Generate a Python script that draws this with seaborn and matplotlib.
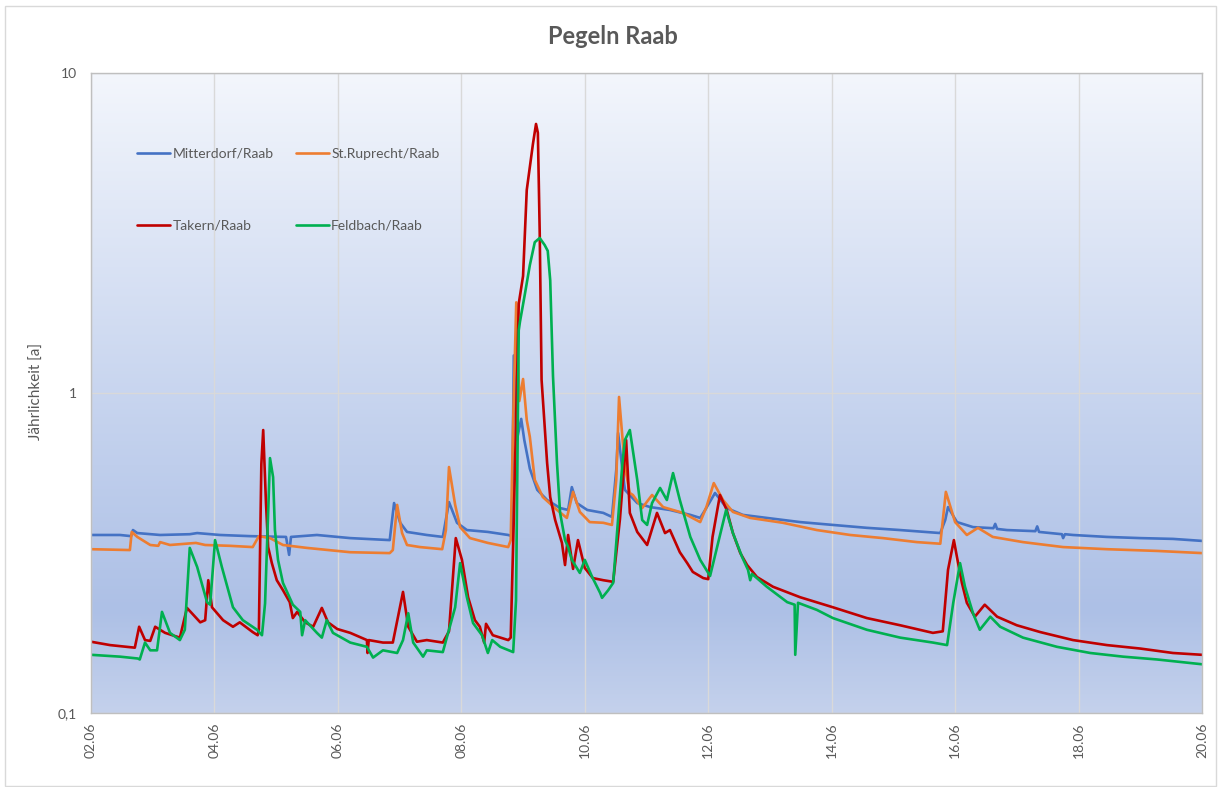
import numpy as np
import pandas as pd
import matplotlib
matplotlib.use("Agg")
import matplotlib.pyplot as plt
import seaborn as sns
from matplotlib.colors import LinearSegmentedColormap
from matplotlib.patches import Rectangle
from matplotlib.ticker import NullLocator

# Gauge readings: (day of June, return period in years)
mitterdorf = [
    (2.00, 0.360), (2.47, 0.360), (2.65, 0.357), (2.68, 0.373), (2.75, 0.365),
    (3.12, 0.360), (3.60, 0.362), (3.72, 0.365), (4.09, 0.360), (4.58, 0.357),
    (5.16, 0.355), (5.21, 0.312), (5.24, 0.355), (5.66, 0.360), (6.20, 0.352),
    (6.84, 0.347), (6.91, 0.453), (7.01, 0.393), (7.12, 0.368), (7.44, 0.360),
    (7.70, 0.355), (7.80, 0.456), (7.93, 0.393), (8.09, 0.373), (8.43, 0.368),
    (8.76, 0.360), (8.82, 0.357), (8.85, 1.31), (8.90, 0.713), (8.97, 0.830),
    (9.02, 0.713), (9.11, 0.580), (9.23, 0.498), (9.39, 0.463), (9.60, 0.437),
    (9.73, 0.431), (9.79, 0.508), (9.87, 0.453), (10.04, 0.431), (10.30, 0.422),
    (10.44, 0.410), (10.51, 0.575), (10.54, 0.750), (10.61, 0.575), (10.65, 0.498),
    (10.85, 0.453), (11.06, 0.440), (11.38, 0.431), (11.71, 0.416), (11.87, 0.407),
    (11.95, 0.431), (12.11, 0.487), (12.30, 0.437), (12.56, 0.416), (12.95, 0.407),
    (13.49, 0.395), (14.02, 0.387), (14.57, 0.379), (15.11, 0.373), (15.76, 0.365),
    (15.84, 0.401), (15.885, 0.440), (16.03, 0.395), (16.29, 0.381), (16.62, 0.378),
    (16.65, 0.390), (16.68, 0.376), (16.84, 0.373), (17.30, 0.370), (17.33, 0.383),
    (17.36, 0.368), (17.73, 0.362), (17.75, 0.352), (17.78, 0.362), (17.91, 0.360),
    (18.46, 0.355), (19.00, 0.352), (19.53, 0.350), (20.00, 0.345),
]

st_ruprecht = [
    (2.00, 0.325), (2.63, 0.323), (2.66, 0.368), (2.75, 0.355), (2.96, 0.335),
    (3.09, 0.333), (3.12, 0.342), (3.28, 0.335), (3.70, 0.340), (3.85, 0.335),
    (4.25, 0.333), (4.62, 0.330), (4.72, 0.357), (4.90, 0.352), (5.11, 0.335),
    (5.50, 0.328), (6.20, 0.318), (6.84, 0.316), (6.89, 0.323), (6.96, 0.447),
    (7.04, 0.365), (7.12, 0.335), (7.33, 0.330), (7.69, 0.325), (7.75, 0.373),
    (7.80, 0.587), (7.90, 0.447), (7.98, 0.381), (8.14, 0.352), (8.43, 0.340),
    (8.76, 0.330), (8.80, 0.347), (8.84, 0.823), (8.89, 1.92), (8.94, 0.944),
    (9.00, 1.106), (9.06, 0.823), (9.11, 0.729), (9.19, 0.535), (9.32, 0.473),
    (9.55, 0.431), (9.71, 0.407), (9.81, 0.491), (9.92, 0.425), (10.08, 0.395),
    (10.30, 0.393), (10.44, 0.387), (10.51, 0.535), (10.555, 0.972), (10.65, 0.587),
    (10.73, 0.487), (10.78, 0.480), (10.93, 0.437), (11.09, 0.480), (11.27, 0.440),
    (11.59, 0.422), (11.87, 0.395), (11.97, 0.440), (12.09, 0.523), (12.24, 0.463),
    (12.40, 0.425), (12.68, 0.407), (13.21, 0.393), (13.76, 0.373), (14.30, 0.360),
    (14.83, 0.352), (15.38, 0.342), (15.76, 0.338), (15.85, 0.491), (16.00, 0.395),
    (16.19, 0.360), (16.37, 0.379), (16.61, 0.355), (17.10, 0.342), (17.75, 0.330),
    (18.46, 0.325), (19.27, 0.321), (20.00, 0.316),
]

takern = [
    (2.00, 0.167), (2.31, 0.163), (2.71, 0.160), (2.78, 0.186), (2.875, 0.169),
    (2.96, 0.168), (3.04, 0.186), (3.20, 0.178), (3.44, 0.172), (3.555, 0.213),
    (3.77, 0.192), (3.85, 0.195), (3.90, 0.260), (3.96, 0.214), (4.14, 0.195),
    (4.30, 0.186), (4.41, 0.192), (4.62, 0.179), (4.70, 0.175), (4.72, 0.182),
    (4.76, 0.600), (4.79, 0.766), (4.835, 0.453), (4.87, 0.330), (4.93, 0.294),
    (5.01, 0.260), (5.11, 0.242), (5.22, 0.222), (5.27, 0.198), (5.34, 0.207),
    (5.47, 0.192), (5.60, 0.186), (5.74, 0.213), (5.84, 0.192), (5.99, 0.183),
    (6.20, 0.178), (6.47, 0.169), (6.48, 0.154), (6.50, 0.169), (6.73, 0.166),
    (6.89, 0.166), (7.055, 0.239), (7.14, 0.186), (7.28, 0.167), (7.44, 0.169),
    (7.70, 0.166), (7.80, 0.180), (7.91, 0.352), (8.01, 0.301), (8.11, 0.230),
    (8.22, 0.195), (8.30, 0.186), (8.37, 0.166), (8.40, 0.190), (8.51, 0.175),
    (8.76, 0.169), (8.80, 0.172), (8.85, 0.404), (8.93, 1.90), (9.00, 2.32),
    (9.06, 4.31), (9.16, 6.00), (9.21, 6.93), (9.24, 6.50), (9.27, 3.16),
    (9.30, 1.10), (9.39, 0.604), (9.44, 0.473), (9.52, 0.401), (9.63, 0.340),
    (9.68, 0.290), (9.73, 0.360), (9.81, 0.282), (9.89, 0.347), (10.00, 0.284),
    (10.13, 0.264), (10.30, 0.260), (10.46, 0.257), (10.57, 0.404), (10.67, 0.713),
    (10.73, 0.422), (10.85, 0.368), (11.01, 0.335), (11.17, 0.422), (11.30, 0.365),
    (11.38, 0.373), (11.54, 0.318), (11.66, 0.294), (11.75, 0.276), (11.92, 0.264),
    (12.00, 0.262), (12.07, 0.355), (12.19, 0.480), (12.30, 0.431), (12.40, 0.365),
    (12.52, 0.316), (12.63, 0.290), (12.79, 0.266), (13.05, 0.248), (13.49, 0.230),
    (14.02, 0.214), (14.57, 0.198), (15.11, 0.188), (15.64, 0.178), (15.80, 0.180),
    (15.885, 0.280), (15.98, 0.347), (16.03, 0.307), (16.11, 0.255), (16.19, 0.221),
    (16.32, 0.200), (16.48, 0.218), (16.68, 0.200), (17.00, 0.188), (17.38, 0.179),
    (17.91, 0.169), (18.46, 0.163), (19.00, 0.159), (19.53, 0.154), (20.00, 0.152),
]

feldbach = [
    (2.00, 0.152), (2.47, 0.150), (2.76, 0.148), (2.79, 0.147), (2.875, 0.166),
    (2.96, 0.157), (3.07, 0.157), (3.15, 0.207), (3.28, 0.178), (3.44, 0.169),
    (3.52, 0.182), (3.60, 0.328), (3.72, 0.286), (3.88, 0.222), (3.93, 0.218),
    (4.01, 0.347), (4.12, 0.286), (4.30, 0.214), (4.46, 0.195), (4.69, 0.182),
    (4.77, 0.175), (4.82, 0.220), (4.90, 0.626), (4.95, 0.546), (4.98, 0.373),
    (5.03, 0.301), (5.11, 0.255), (5.22, 0.229), (5.27, 0.218), (5.39, 0.207),
    (5.42, 0.175), (5.47, 0.195), (5.66, 0.178), (5.74, 0.172), (5.82, 0.195),
    (5.92, 0.178), (6.20, 0.166), (6.47, 0.161), (6.57, 0.149), (6.73, 0.157),
    (6.96, 0.154), (7.055, 0.169), (7.14, 0.205), (7.22, 0.166), (7.38, 0.150),
    (7.44, 0.157), (7.70, 0.155), (7.90, 0.214), (7.98, 0.294), (8.09, 0.230),
    (8.19, 0.191), (8.335, 0.175), (8.43, 0.154), (8.50, 0.169), (8.63, 0.161),
    (8.84, 0.155), (8.886, 0.225), (8.93, 1.57), (8.95, 1.67), (9.03, 2.04),
    (9.11, 2.51), (9.19, 2.96), (9.27, 3.05), (9.35, 2.90), (9.40, 2.78),
    (9.44, 2.25), (9.485, 1.13), (9.55, 0.604), (9.60, 0.422), (9.68, 0.347),
    (9.73, 0.330), (9.79, 0.301), (9.92, 0.274), (10.00, 0.301), (10.12, 0.266),
    (10.25, 0.237), (10.28, 0.229), (10.38, 0.242), (10.46, 0.255), (10.61, 0.604),
    (10.65, 0.713), (10.73, 0.766), (10.85, 0.535), (10.93, 0.401), (11.01, 0.387),
    (11.09, 0.453), (11.22, 0.505), (11.33, 0.463), (11.43, 0.562), (11.54, 0.463),
    (11.71, 0.355), (11.87, 0.301), (12.00, 0.274), (12.03, 0.268), (12.29, 0.431),
    (12.40, 0.365), (12.55, 0.307), (12.645, 0.280), (12.68, 0.260), (12.71, 0.272),
    (12.95, 0.248), (13.28, 0.222), (13.40, 0.218), (13.41, 0.152), (13.455, 0.221),
    (13.76, 0.210), (14.02, 0.198), (14.57, 0.182), (15.11, 0.172), (15.64, 0.166),
    (15.87, 0.163), (15.97, 0.221), (16.08, 0.294), (16.16, 0.248), (16.29, 0.205),
    (16.40, 0.182), (16.57, 0.200), (16.73, 0.186), (17.10, 0.172), (17.65, 0.161),
    (18.19, 0.154), (18.72, 0.150), (19.27, 0.147), (20.00, 0.142),
]

stations = ["Mitterdorf/Raab", "St.Ruprecht/Raab", "Takern/Raab", "Feldbach/Raab"]
colors = ["#4472C4", "#ED7D31", "#C00000", "#00B050"]
x_ticks = [2, 4, 6, 8, 10, 12, 14, 16, 18, 20]
x_tick_labels = ["02.06", "04.06", "06.06", "08.06", "10.06",
                 "12.06", "14.06", "16.06", "18.06", "20.06"]
y_ticks = [0.1, 1, 10]
y_tick_labels = ["0,1", "1", "10"]

frames = []
for name, series in zip(stations, [mitterdorf, st_ruprecht, takern, feldbach]):
    part = pd.DataFrame(series, columns=["day", "value"])
    part["station"] = name
    frames.append(part)
df = pd.concat(frames, ignore_index=True)

sns.set_style("white")
plt.rcParams["font.family"] = ["Lato", "DejaVu Sans"]
text_color = "#595959"

W, H = 1219, 787
fig = plt.figure(figsize=(W / 100, H / 100), dpi=100)
ax = fig.add_axes([91 / W, 1 - 713 / H, 1111 / W, 640 / H])

# Plot-area background: vertical gradient, light at the top
bg = LinearSegmentedColormap.from_list(
    "bg", [(0.0, "#c4d1ec"), (0.16, "#adc0e6"), (0.5, "#c8d5ef"), (1.0, "#f3f6fc")])
grad = np.linspace(0, 1, 256).reshape(-1, 1)
ax.imshow(grad, cmap=bg, extent=[0, 1, 0, 1], transform=ax.transAxes,
          origin="lower", aspect="auto", zorder=0, interpolation="bicubic")

sns.lineplot(data=df, x="day", y="value", hue="station", hue_order=stations,
             palette=colors, estimator=None, sort=False, linewidth=1.9, ax=ax)

ax.set_yscale("log")
ax.set_xlim(2, 20)
ax.set_ylim(0.1, 10)
ax.set_xticks(x_ticks)
ax.set_xticklabels(x_tick_labels, rotation=90)
ax.set_yticks(y_ticks)
ax.set_yticklabels(y_tick_labels)
ax.yaxis.set_minor_locator(NullLocator())
ax.tick_params(axis="both", length=0, colors=text_color, labelsize=10)
ax.tick_params(axis="y", pad=10)
ax.tick_params(axis="x", pad=7)
ax.set_xlabel("")
ax.set_ylabel("")
ax.grid(True, which="major", color="#d9d9d9", linewidth=1)
ax.set_axisbelow(True)
for sp in ax.spines.values():
    sp.set_visible(True)
    sp.set_color("#bfbfbf")
    sp.set_linewidth(1)

handles, labels = ax.get_legend_handles_labels()
order = [0, 2, 1, 3]
leg = ax.legend([handles[i] for i in order], [labels[i] for i in order],
                loc="upper left", bbox_to_anchor=(0.0414, 0.883), ncol=2,
                frameon=False, fontsize=10, handlelength=2.4, handletextpad=0.15,
                labelspacing=4.3, columnspacing=1.6, borderpad=0, borderaxespad=0)
for t in leg.get_texts():
    t.set_color(text_color)

fig.text(37 / W, 1 - 391 / H, "Jährlichkeit [a]", rotation=90, ha="center",
         va="center", color=text_color, fontsize=11)
fig.text(613 / W, 1 - 37 / H, "Pegeln Raab", ha="center", va="center",
         color=text_color, fontsize=17, fontweight="bold")

fig.add_artist(Rectangle((5 / W, 1 / H), 1211 / W, 780 / H, transform=fig.transFigure,
                         fill=False, edgecolor="#d9d9d9", linewidth=1))

fig.savefig("out.png", dpi=100)
